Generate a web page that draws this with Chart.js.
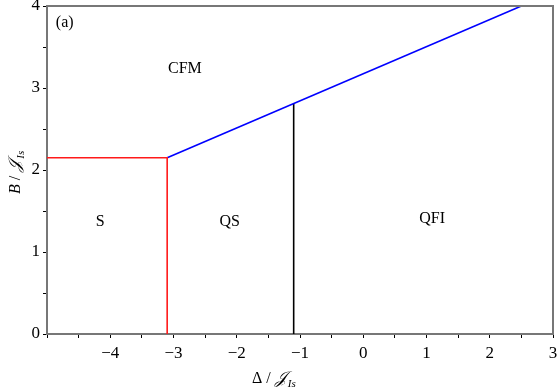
<!DOCTYPE html>
<html>
<head>
<meta charset="utf-8">
<script src="https://cdn.jsdelivr.net/npm/chart.js@4"></script>
<style>
  html, body { margin: 0; padding: 0; background: #fff; }
  #wrap { width: 559px; height: 390px; }
</style>
</head>
<body>
<div id="wrap"><canvas id="c" width="559" height="390"></canvas></div>
<script>
// phase boundaries (Δ, B)
const redBoundary = [[-5, 2.15], [-3.1, 2.15], [-3.1, 0]];
const blueBoundary = [[-3.1, 2.15], [2.5, 4.0]];
const blackBoundary = [[-1.1, 0], [-1.1, 2.81]];

// region labels
const regionNames = ['(a)', 'CFM', 'S', 'QS', 'QFI'];
const regionX = [-4.72, -2.82, -4.16, -2.11, 1.09];
const regionY = [3.8, 3.24, 1.37, 1.37, 1.41];

const xRange = [-5, 3];
const yRange = [0, 4];

const axisGray = '#777777';
const serif = '"Liberation Serif", "DejaVu Serif", serif';

const toPts = arr => arr.map(p => ({ x: p[0], y: p[1] }));

// frame, region labels and axis titles
const decor = {
  id: 'decor',
  afterDraw(chart) {
    const { ctx, chartArea: a, scales } = chart;
    ctx.save();
    ctx.strokeStyle = axisGray;
    ctx.lineWidth = 2;
    ctx.beginPath();
    ctx.moveTo(a.left, a.top);
    ctx.lineTo(a.right, a.top);
    ctx.lineTo(a.right, a.bottom);
    ctx.stroke();

    ctx.fillStyle = '#000';
    ctx.font = '16px ' + serif;
    ctx.textAlign = 'center';
    ctx.textBaseline = 'middle';
    regionNames.forEach((t, i) => {
      ctx.fillText(t, scales.x.getPixelForValue(regionX[i]), scales.y.getPixelForValue(regionY[i]));
    });

    // x title: Δ / J_Is
    const drawTitle = (lead, x, y) => {
      ctx.textAlign = 'left';
      ctx.textBaseline = 'alphabetic';
      ctx.font = '16px ' + serif;
      ctx.fillText(lead, x, y);
      let w = ctx.measureText(lead).width;
      ctx.font = 'italic 17px ' + serif;
      ctx.fillText('\u{1D4A5}', x + w, y);
      w += ctx.measureText('\u{1D4A5}').width;
      ctx.font = 'italic 11px ' + serif;
      ctx.fillText('Is', x + w + 1, y + 4);
    };
    drawTitle('\u0394 / ', 252, 383);

    ctx.save();
    ctx.translate(20, 194);
    ctx.rotate(-Math.PI / 2);
    ctx.font = 'italic 16px ' + serif;
    ctx.textAlign = 'left';
    ctx.fillText('B', 0, 0);
    const bw = ctx.measureText('B').width;
    ctx.font = '16px ' + serif;
    drawTitle(' / ', bw, 0);
    ctx.restore();
    ctx.restore();
  }
};

const lineSet = (data, color) => ({
  data: toPts(data),
  showLine: true,
  borderColor: color,
  borderWidth: 1.6,
  pointRadius: 0,
  fill: false
});

const tickLabel = v => Number.isInteger(v) ? String(v).replace('-', '\u2212') : '';

new Chart(document.getElementById('c'), {
  type: 'scatter',
  data: {
    datasets: [
      lineSet(redBoundary, '#ff1a1a'),
      lineSet(blueBoundary, '#0000ff'),
      lineSet(blackBoundary, '#000000')
    ]
  },
  options: {
    responsive: false,
    animation: false,
    layout: { padding: { top: 6, right: 6, left: 0, bottom: 0 } },
    plugins: { legend: { display: false }, tooltip: { enabled: false } },
    scales: {
      x: {
        type: 'linear',
        min: xRange[0], max: xRange[1],
        afterFit: s => { s.height = 56; s.paddingLeft = 0; s.paddingRight = 0; },
        border: { color: axisGray, width: 2 },
        grid: { drawOnChartArea: false, drawTicks: true, tickLength: 4, tickColor: '#000', tickWidth: 1 },
        ticks: {
          stepSize: 0.5, autoSkip: false, maxRotation: 0, padding: 5,
          color: '#000', font: { family: serif, size: 17 },
          callback: v => v === -5 ? '' : tickLabel(v)
        }
      },
      y: {
        type: 'linear',
        min: yRange[0], max: yRange[1],
        afterFit: s => { s.width = 47; s.paddingTop = 0; s.paddingBottom = 0; },
        border: { color: axisGray, width: 2 },
        grid: { drawOnChartArea: false, drawTicks: true, tickLength: 4, tickColor: '#000', tickWidth: 1 },
        ticks: {
          stepSize: 0.5, autoSkip: false, padding: 3,
          color: '#000', font: { family: serif, size: 17 },
          callback: tickLabel
        }
      }
    }
  },
  plugins: [decor]
});
</script>
</body>
</html>
